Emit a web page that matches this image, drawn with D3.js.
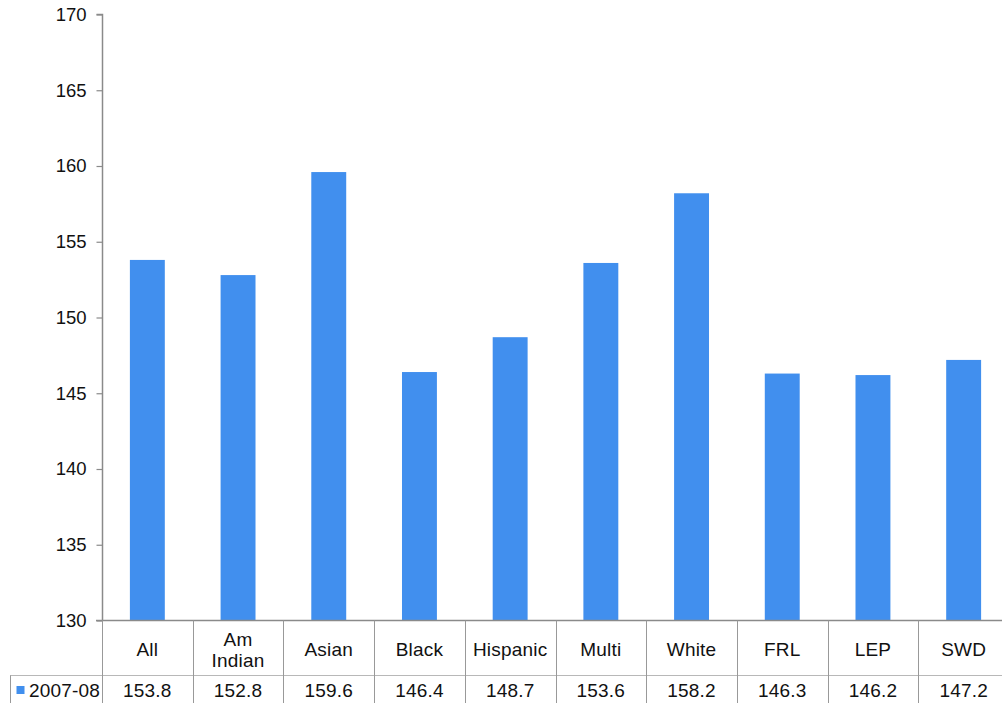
<!DOCTYPE html>
<html>
<head>
<meta charset="utf-8">
<script src="https://cdn.jsdelivr.net/npm/d3@7"></script>
<style>
html,body{margin:0;padding:0;background:#fff;}
svg{display:block;font-family:"Liberation Sans",Arial,sans-serif;}
</style>
</head>
<body>
<svg id="chart" width="1002" height="703"></svg>
<script>
const categories = ["All","Am Indian","Asian","Black","Hispanic","Multi","White","FRL","LEP","SWD"];
const categoryLines = [["All"],["Am","Indian"],["Asian"],["Black"],["Hispanic"],["Multi"],["White"],["FRL"],["LEP"],["SWD"]];
const seriesName = "2007-08";
const values = [153.8,152.8,159.6,146.4,148.7,153.6,158.2,146.3,146.2,147.2];
const yTicks = [130,135,140,145,150,155,160,165,170];

(function(){
const svg = d3.select("#chart");
const mLeft = 102, mRight = 1009, mTop = 14.5, mBottom = 620.5;
const rowY = 675.5;
const blue = "#418FEE";
const axisColor = "#8a8a8a";
const fs = 19;
const ls = "0.2px";

const x = d3.scaleBand().domain(categories).range([mLeft, mRight]).paddingInner(0).paddingOuter(0);
const y = d3.scaleLinear().domain([130,170]).range([mBottom, mTop]);
const barW = x.bandwidth() * 0.385;

// bars
svg.append("g").selectAll("rect").data(values).join("rect")
  .attr("x", (d,i) => x(categories[i]) + x.bandwidth()/2 - barW/2)
  .attr("y", d => y(d))
  .attr("width", barW)
  .attr("height", d => y(130) - y(d))
  .attr("fill", blue);

// y axis
const yAxis = svg.append("g").attr("transform", `translate(${mLeft + 0.5},0)`)
  .call(d3.axisLeft(y).tickValues(yTicks).tickSize(6).tickPadding(10).tickFormat(d3.format("d")));
yAxis.select(".domain").attr("stroke", axisColor).attr("stroke-width", 1.5).attr("d", `M-6,${mTop}H0V${mBottom}`);
yAxis.selectAll(".tick line").attr("stroke", axisColor).attr("stroke-width", 1.2);
yAxis.selectAll(".tick text").attr("font-size", fs - 0.5).attr("fill", "#111")
  .attr("font-family", '"Liberation Sans",Arial,sans-serif');

// table lines
const g = svg.append("g");
g.append("line").attr("x1", mLeft - 6).attr("x2", 1002).attr("y1", mBottom).attr("y2", mBottom)
  .attr("stroke", axisColor).attr("stroke-width", 1.5);
g.append("line").attr("x1", 10).attr("x2", 1002).attr("y1", rowY).attr("y2", rowY)
  .attr("stroke", "#b8b8b8").attr("stroke-width", 1);
const vx = [mLeft].concat(categories.slice(1).map(c => x(c)));
g.selectAll("line.v").data(vx).join("line").attr("class","v")
  .attr("x1", d => Math.round(d) + 0.5).attr("x2", d => Math.round(d) + 0.5)
  .attr("y1", mBottom).attr("y2", 703)
  .attr("stroke", "#999").attr("stroke-width", 1);
g.append("line").attr("x1", 10.5).attr("x2", 10.5).attr("y1", rowY).attr("y2", 703)
  .attr("stroke", "#999").attr("stroke-width", 1);

// category labels
const lab = svg.append("g").attr("font-size", fs).attr("letter-spacing", ls).attr("fill", "#111").attr("text-anchor", "middle");
categories.forEach((c, i) => {
  const lines = categoryLines[i];
  const cx = x(c) + x.bandwidth()/2;
  const cy = 649.5;
  lines.forEach((t, j) => {
    lab.append("text").attr("x", cx)
      .attr("y", cy + (j - (lines.length-1)/2) * 21)
      .attr("dy", "0.35em").text(t);
  });
});

// value row
const valY = 690.5;
svg.append("g").attr("font-size", fs).attr("letter-spacing", ls).attr("fill", "#111").attr("text-anchor", "middle")
  .selectAll("text").data(values).join("text")
  .attr("x", (d,i) => x(categories[i]) + x.bandwidth()/2)
  .attr("y", valY).attr("dy", "0.35em")
  .text(d => d3.format(".1f")(d));

// legend key
svg.append("rect").attr("x", 16.5).attr("y", 686).attr("width", 8).attr("height", 8).attr("fill", blue);
svg.append("text").attr("x", 29).attr("y", valY).attr("dy", "0.35em").attr("font-size", fs).attr("letter-spacing", ls).attr("fill", "#111").text(seriesName);
})();
</script>
</body>
</html>
